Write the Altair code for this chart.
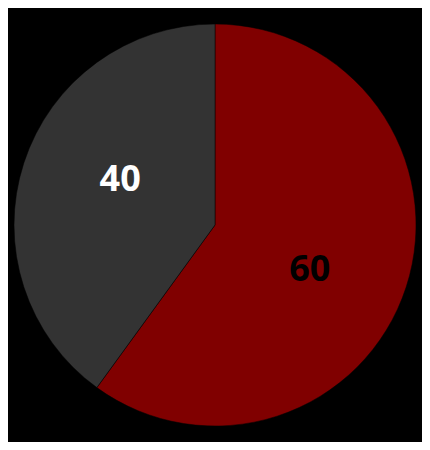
import altair as alt
import pandas as pd

categories = ["A", "B"]
values = [60, 40]
colors = ["#800000", "#333333"]
label_colors = ["#000000", "#ffffff"]

df = pd.DataFrame({"cat": categories, "value": values, "lc": label_colors})

base = alt.Chart(df).encode(
    theta=alt.Theta("value:Q", stack=True),
    order=alt.Order("cat:N"),
)

arcs = base.mark_arc(outerRadius=201, stroke="#000000", strokeWidth=0.5).encode(
    color=alt.Color("cat:N", scale=alt.Scale(domain=categories, range=colors), legend=None)
)

labels = base.mark_text(radius=105, thetaOffset=0.13, font="Open Sans",
                        fontWeight="bold", fontSize=36).encode(
    text="value:Q",
    color=alt.Color("lc:N", scale=None),
)

chart = (arcs + labels).properties(
    width=414, height=434, background="#000000", padding=0,
    autosize=alt.AutoSizeParams(type="none")
).configure_view(stroke=None)

chart.save("out.html", embed_options={"renderer": "svg", "actions": False})
